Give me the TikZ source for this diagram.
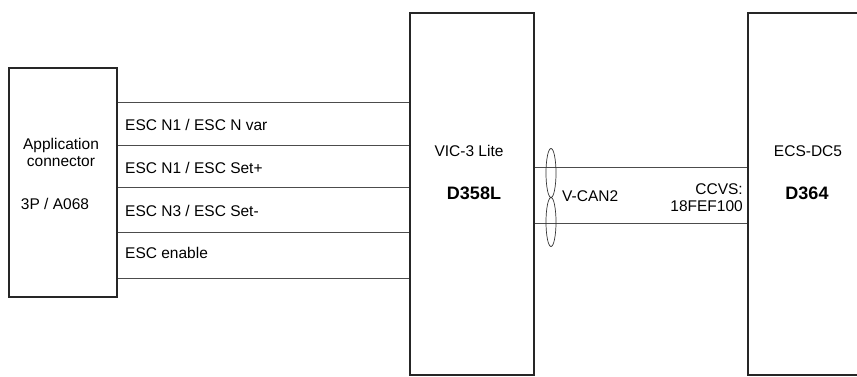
\documentclass[tikz,border=0pt]{standalone}
\usepackage{fontspec}
\setmainfont{Liberation Sans}
\usetikzlibrary{positioning,shapes.geometric,calc}

\begin{document}
\begin{tikzpicture}[
    x=1pt, y=-1pt,
    unit/.style={draw=black!85, line width=1.2pt, minimum width=#1, minimum height=362pt, inner sep=0pt},
    wire/.style={draw=black!70, line width=0.8pt},
    lbl/.style={font=\fontsize{15.5}{17}\selectfont, inner sep=0pt},
    big/.style={font=\fontsize{18}{20}\selectfont\bfseries, inner sep=0pt},
    twist/.style={ellipse, draw=black!80, line width=0.7pt, minimum width=10pt, minimum height=49pt, inner sep=0pt}
  ]
    \useasboundingbox (0,0) rectangle (857,377);
    \clip (0,0) rectangle (857,377);

    % control units
    \node[unit=108pt, minimum height=229pt] (appconn) at (63,182.5) {};
    \node[unit=124pt] (vic) at (472,194) {};
    \node[unit=120pt] (ecs) at (808,194) {};

    \node[lbl, align=center] (applbl) at (61,152) {Application\\connector};
    \node[lbl] (apppin) at (55,204) {3P / A068};
    \node[lbl] (viclbl) at (469,151) {VIC-3 Lite};
    \node[big] (vicid) at (474,193) {D358L};
    \node[lbl] (ecslbl) at (808,151) {ECS-DC5};
    \node[big] (ecsid) at (807,193) {D364};

    % hard wires
    \foreach \y in {102,145,187,232,278}
      \draw[wire] (appconn.east |- 0,\y) -- (vic.west |- 0,\y);
    \node[lbl, anchor=west] (sig1) at (125,125) {ESC N1 / ESC N var};
    \node[lbl, anchor=west] (sig2) at (125,168) {ESC N1 / ESC Set+};
    \node[lbl, anchor=west] (sig3) at (125,211) {ESC N3 / ESC Set-};
    \node[lbl, anchor=west] (sig4) at (125,253) {ESC enable};

    % CAN link
    \draw[wire] (vic.east |- 0,167) -- (ecs.west |- 0,167);
    \draw[wire] (vic.east |- 0,223) -- (ecs.west |- 0,223);
    \node[twist] (canhi) at (551,173) {};
    \node[twist] (canlo) at (551,222) {};
    \node[lbl, anchor=west] (canlbl) at (562,196) {V-CAN2};
    \node[lbl, anchor=east, align=right] (ccvs) at (743,198) {CCVS:\\18FEF100};
  \end{tikzpicture}
\end{document}
